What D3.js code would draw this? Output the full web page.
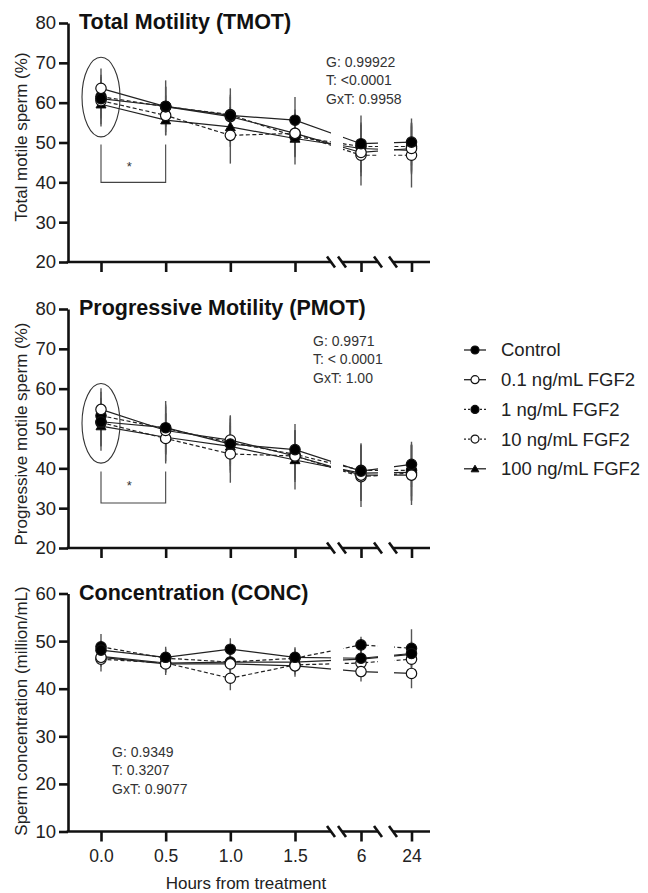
<!DOCTYPE html>
<html>
<head>
<meta charset="utf-8">
<script src="https://cdn.jsdelivr.net/npm/d3@7"></script>
<style>
body { margin: 0; background: #fff; }
svg { display: block; font-family: Arial, "Liberation Sans", Helvetica, sans-serif; }
</style>
</head>
<body>
<div id="chart"></div>
<script>
// time points and labels
var hours = [0, 0.5, 1.0, 1.5, 6, 24];
var hourLabels = ['0.0', '0.5', '1.0', '1.5', '6', '24'];
var groups = ['Control', '0.1 ng/mL FGF2', '1 ng/mL FGF2', '10 ng/mL FGF2', '100 ng/mL FGF2'];

// means / error, one row per group (same order as groups)
var tmotMean = [
    [61.0, 59.1, 56.8, 55.6, 49.7, 50.1],
    [63.6, 59.0, 56.5, 52.3, 47.5, 48.5],
    [61.5, 59.0, 57.0, 51.5, 49.0, 49.0],
    [60.5, 56.8, 51.8, 52.3, 46.8, 46.8],
    [59.6, 55.6, 53.9, 51.0, 48.5, 48.0]
];
var tmotErr = [
    [5.0, 6.5, 6.8, 5.8, 7.1, 5.9],
    [5.0, 5.0, 5.0, 5.0, 6.0, 6.0],
    [5.0, 5.0, 5.0, 5.0, 6.0, 6.0],
    [6.5, 5.0, 7.1, 6.0, 7.6, 8.1],
    [5.0, 3.8, 5.0, 6.5, 6.0, 6.0]
];
var pmotMean = [
    [51.7, 50.2, 46.1, 44.7, 39.3, 41.0],
    [54.8, 49.5, 47.1, 43.1, 38.3, 38.3],
    [53.2, 50.0, 46.5, 43.5, 39.5, 39.5],
    [51.5, 47.5, 43.6, 43.1, 37.9, 38.8],
    [50.6, 47.8, 45.5, 42.1, 38.8, 39.0]
];
var pmotErr = [
    [6.0, 6.7, 7.2, 6.4, 7.0, 5.7],
    [5.3, 6.0, 6.0, 6.0, 6.5, 7.5],
    [6.0, 6.0, 6.0, 6.0, 6.5, 6.5],
    [6.0, 6.3, 7.2, 6.5, 7.6, 7.0],
    [6.2, 6.0, 6.0, 7.4, 7.0, 7.0]
];
var concMean = [
    [48.1, 46.6, 48.3, 46.6, 46.4, 47.4],
    [46.6, 45.2, 45.2, 44.8, 43.6, 43.2],
    [48.8, 46.4, 45.6, 46.4, 49.2, 48.5],
    [46.2, 45.4, 42.2, 45.0, 45.4, 46.2],
    [46.8, 45.4, 45.6, 45.6, 46.2, 47.2]
];
var concErr = [
    [2.0, 2.2, 2.3, 2.1, 2.0, 2.5],
    [2.0, 2.3, 2.0, 2.3, 2.1, 3.1],
    [2.7, 2.0, 2.0, 2.0, 1.7, 4.0],
    [2.6, 2.0, 2.5, 2.0, 2.0, 2.5],
    [2.0, 2.0, 2.0, 2.0, 2.0, 2.0]
];

var tmotStats = ['G: 0.99922', 'T: <0.0001', 'GxT: 0.9958'];
var pmotStats = ['G: 0.9971', 'T: < 0.0001', 'GxT: 1.00'];
var concStats = ['G: 0.9349', 'T: 0.3207', 'GxT: 0.9077'];

// ellipse around 0 h: [centre, half height]; bracket: [top, bottom, star]
var tmotEllipse = [61.4, 10];
var pmotEllipse = [51.3, 10];
var tmotBracket = [49.5, 40, 44.7];
var pmotBracket = [39.2, 31.3, 36.3];

var styles = [
    { shape: 'circle', fill: 'black', dash: null },
    { shape: 'circle', fill: 'white', dash: null },
    { shape: 'circle', fill: 'black', dash: '4,2.5' },
    { shape: 'circle', fill: 'white', dash: '4,2.5' },
    { shape: 'triangle', fill: 'black', dash: null }
];

var W = 648, H = 893;
var axisX = 68;
var segs = [[axisX, 331], [342, 378], [393, 430]];

var svg = d3.select('#chart').append('svg')
    .attr('width', W)
    .attr('height', H)
    .attr('viewBox', '0 0 ' + W + ' ' + H);

var x = d3.scaleLinear()
    .domain([0, 1.5, 6, 24])
    .range([101, 295, 361, 411.5]);

function drawPanel(p, idx) {
    var y = d3.scaleLinear().domain(p.domain).range([p.bottom, p.top]);
    var g = svg.append('g');

    var clipId = 'clip' + idx;
    var clip = svg.append('clipPath').attr('id', clipId);
    segs.forEach(function(s, i) {
        clip.append('rect')
            .attr('x', i === 0 ? s[0] : s[0] + 1)
            .attr('y', p.top - 30)
            .attr('width', s[1] - s[0] - (i === 0 ? 0 : 1))
            .attr('height', p.bottom - p.top + 30);
    });

    // title
    g.append('text')
        .attr('x', 79)
        .attr('y', p.top + 6)
        .attr('font-size', 21.5)
        .attr('font-weight', 'bold')
        .attr('fill', '#111')
        .text(p.title);

    // y label
    g.append('text')
        .attr('transform', 'translate(21,' + p.labelY + ') rotate(-90)')
        .attr('text-anchor', 'middle')
        .attr('dy', '0.35em')
        .attr('font-size', 17)
        .attr('fill', '#222')
        .text(p.ylabel);

    // y axis
    var yAxis = g.append('g')
        .attr('transform', 'translate(' + axisX + ',0)')
        .call(d3.axisLeft(y).tickValues(p.ticks).tickSize(9).tickSizeOuter(0).tickPadding(3));
    yAxis.select('.domain').attr('stroke-width', 2.6).attr('stroke', '#111');
    yAxis.selectAll('.tick line').attr('stroke-width', 2.6).attr('stroke', '#111');
    yAxis.selectAll('.tick text').attr('font-size', 18.5).attr('fill', '#222')
        .attr('font-family', 'Arial, "Liberation Sans", sans-serif');

    // x axis, broken
    var xAxis = g.append('g').attr('transform', 'translate(0,' + p.bottom + ')');
    var ax = d3.axisBottom(x).tickValues(hours).tickSize(10).tickPadding(8)
        .tickFormat(function(d, i) { return p.showX ? hourLabels[i] : ''; });
    xAxis.call(ax);
    xAxis.select('.domain').remove();
    xAxis.selectAll('.tick line').attr('stroke-width', 2.6).attr('stroke', '#111');
    xAxis.selectAll('.tick text').attr('font-size', 17.5).attr('fill', '#222')
        .attr('font-family', 'Arial, "Liberation Sans", sans-serif');
    segs.forEach(function(s, i) {
        xAxis.append('line')
            .attr('x1', s[0] - (i === 0 ? 1.3 : 0)).attr('x2', s[1])
            .attr('y1', 0).attr('y2', 0)
            .attr('stroke', '#111').attr('stroke-width', 2.6);
        var ends = [];
        if (i > 0) ends.push(s[0]);
        if (i < segs.length - 1) ends.push(s[1]);
        ends.forEach(function(e) {
            xAxis.append('line')
                .attr('x1', e - 4).attr('y1', -5.5)
                .attr('x2', e + 4).attr('y2', 5.5)
                .attr('stroke', '#111').attr('stroke-width', 2.6);
        });
    });

    // error bars
    var eg = g.append('g').attr('clip-path', 'url(#' + clipId + ')');
    p.mean.forEach(function(row, s) {
        row.forEach(function(m, i) {
            eg.append('line')
                .attr('x1', x(hours[i])).attr('x2', x(hours[i]))
                .attr('y1', y(m - p.err[s][i])).attr('y2', y(m + p.err[s][i]))
                .attr('stroke', '#555').attr('stroke-width', 1.4);
        });
    });

    // lines
    var line = d3.line()
        .x(function(d, i) { return x(hours[i]); })
        .y(function(d) { return y(d); });
    var lg = g.append('g').attr('clip-path', 'url(#' + clipId + ')');
    p.mean.forEach(function(row, s) {
        lg.append('path')
            .attr('d', line(row))
            .attr('fill', 'none')
            .attr('stroke', '#222')
            .attr('stroke-width', 1.2)
            .attr('stroke-dasharray', styles[s].dash);
    });

    // markers, last group at the back
    var mg = g.append('g');
    for (var s = p.mean.length - 1; s >= 0; s--) {
        p.mean[s].forEach(function(m, i) {
            drawMarker(mg, styles[s], x(hours[i]), y(m), 5.2);
        });
    }

    // ellipse and bracket
    if (p.ellipse) {
        g.append('ellipse')
            .attr('cx', x(0))
            .attr('cy', y(p.ellipse[0]))
            .attr('rx', 19)
            .attr('ry', y(p.ellipse[0] - p.ellipse[1]) - y(p.ellipse[0]))
            .attr('fill', 'none')
            .attr('stroke', '#333')
            .attr('stroke-width', 1.1);
    }
    if (p.bracket) {
        g.append('path')
            .attr('d', 'M' + x(0) + ',' + y(p.bracket[0]) + 'V' + y(p.bracket[1]) +
                'H' + x(0.5) + 'V' + y(p.bracket[0]))
            .attr('fill', 'none')
            .attr('stroke', '#444')
            .attr('stroke-width', 1.1);
        g.append('text')
            .attr('x', (x(0) + x(0.5)) / 2 - 4)
            .attr('y', y(p.bracket[2]))
            .attr('text-anchor', 'middle')
            .attr('dy', '0.55em')
            .attr('font-size', 13)
            .attr('fill', '#333')
            .text('*');
    }

    // stats text
    var st = g.append('text')
        .attr('font-size', 14)
        .attr('fill', '#333');
    p.stats.forEach(function(t, i) {
        st.append('tspan')
            .attr('x', p.statsX)
            .attr('y', p.statsY + i * 18.3)
            .text(t);
    });
}

function drawMarker(g, st, cx, cy, r) {
    if (st.shape === 'triangle') {
        g.append('path')
            .attr('d', d3.symbol().type(d3.symbolTriangle).size(r * r * 1.6)())
            .attr('transform', 'translate(' + cx + ',' + (cy + 0.8) + ')')
            .attr('fill', st.fill)
            .attr('stroke', '#111')
            .attr('stroke-width', 1);
    } else {
        g.append('circle')
            .attr('cx', cx).attr('cy', cy)
            .attr('r', r)
            .attr('fill', st.fill)
            .attr('stroke', '#111')
            .attr('stroke-width', 1.2);
    }
}

var panels = [
    { title: 'Total Motility (TMOT)', ylabel: 'Total motile sperm (%)', domain: [20, 80],
      ticks: [20, 30, 40, 50, 60, 70, 80], top: 23, bottom: 262, labelY: 137,
      mean: tmotMean, err: tmotErr, stats: tmotStats, statsX: 326, statsY: 67,
      ellipse: tmotEllipse, bracket: tmotBracket, showX: false },
    { title: 'Progressive Motility (PMOT)', ylabel: 'Progressive motile sperm (%)', domain: [20, 80],
      ticks: [20, 30, 40, 50, 60, 70, 80], top: 309, bottom: 548, labelY: 434,
      mean: pmotMean, err: pmotErr, stats: pmotStats, statsX: 313, statsY: 346,
      ellipse: pmotEllipse, bracket: pmotBracket, showX: false },
    { title: 'Concentration (CONC)', ylabel: 'Sperm concentration (million/mL)', domain: [10, 60],
      ticks: [10, 20, 30, 40, 50, 60], top: 593.5, bottom: 831.5, labelY: 711,
      mean: concMean, err: concErr, stats: concStats, statsX: 112, statsY: 757,
      ellipse: null, bracket: null, showX: true }
];

panels.forEach(drawPanel);

// x axis title
svg.append('text')
    .attr('x', 246)
    .attr('y', 889)
    .attr('text-anchor', 'middle')
    .attr('font-size', 17)
    .attr('fill', '#222')
    .text('Hours from treatment');

// legend
var legend = svg.append('g').attr('transform', 'translate(464,350)');
groups.forEach(function(name, i) {
    var row = legend.append('g').attr('transform', 'translate(0,' + (i * 29.7) + ')');
    row.append('line')
        .attr('x1', 0).attr('x2', 22)
        .attr('y1', 0).attr('y2', 0)
        .attr('stroke', '#222')
        .attr('stroke-width', 1.3)
        .attr('stroke-dasharray', styles[i].dash ? '2,2' : null);
    drawMarker(row, styles[i], 11, 0, 4);
    row.append('text')
        .attr('x', 37)
        .attr('dy', '0.35em')
        .attr('font-size', 18.5)
        .attr('fill', '#222')
        .text(name);
});
</script>
</body>
</html>
